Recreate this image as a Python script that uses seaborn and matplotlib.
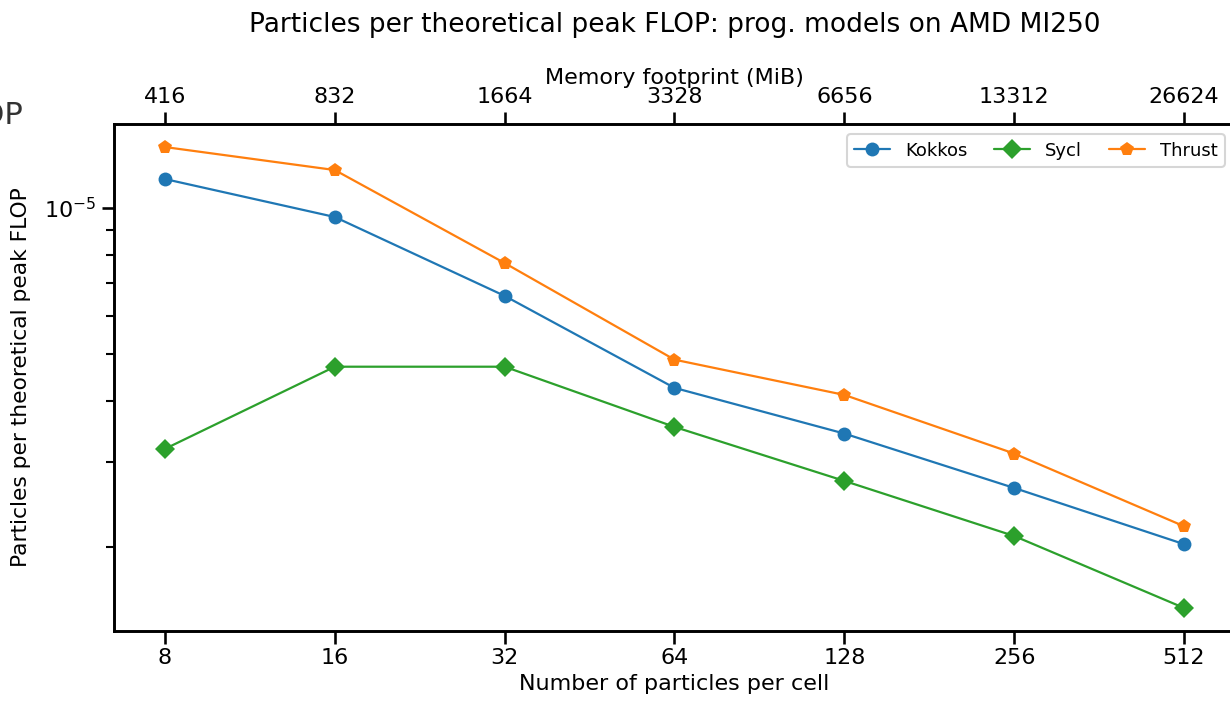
import seaborn as sns
import matplotlib.pyplot as plt
import matplotlib.ticker as mticker
import pandas as pd

# values
particles = [8, 16, 32, 64, 128, 256, 512]
memory_mib = [416, 832, 1664, 3328, 6656, 13312, 26624]
kokkos = [1.147e-5, 0.958e-5, 0.659e-5, 0.426e-5, 0.343e-5, 0.265e-5, 0.203e-5]
sycl = [0.319e-5, 0.471e-5, 0.471e-5, 0.354e-5, 0.274e-5, 0.211e-5, 0.150e-5]
thrust = [1.335e-5, 1.197e-5, 0.770e-5, 0.487e-5, 0.412e-5, 0.312e-5, 0.221e-5]
models = ["Kokkos", "Sycl", "Thrust"]

df = pd.DataFrame({
    "ppc": particles * 3,
    "value": kokkos + sycl + thrust,
    "model": sum([[m] * len(particles) for m in models], []),
})

sns.set_theme(context="talk", style="ticks")
plt.rcParams.update({
    "text.color": "black", "axes.labelcolor": "black", "axes.edgecolor": "black",
    "xtick.color": "black", "ytick.color": "black",
})

fig = plt.figure(figsize=(12.3, 7.01), dpi=100)
ax = fig.add_axes([114 / 1230, 70 / 701, 1121 / 1230, 507 / 701])

palette = {"Kokkos": "tab:blue", "Sycl": "tab:green", "Thrust": "tab:orange"}
markers = {"Kokkos": "o", "Sycl": "D", "Thrust": "p"}
sns.lineplot(data=df, x="ppc", y="value", hue="model", style="model",
             hue_order=models, palette=palette, markers=markers, dashes=False,
             markeredgewidth=0, markersize=10, linewidth=1.6, ax=ax)

ax.set_xscale("log", base=2)
ax.set_yscale("log")
ax.xaxis.set_major_locator(mticker.FixedLocator(particles))
ax.xaxis.set_major_formatter(mticker.FixedFormatter([str(p) for p in particles]))
ax.xaxis.set_minor_locator(mticker.NullLocator())
ax.yaxis.set_minor_formatter(mticker.NullFormatter())
ax.set_xlabel("Number of particles per cell", fontsize=16)
ax.set_ylabel("Particles per theoretical peak FLOP", fontsize=15.7, labelpad=10)
ax.tick_params(labelsize=16)

# top axis: memory footprint
ax2 = ax.twiny()
ax2.set_xscale("log", base=2)
ax2.set_xlim(ax.get_xlim())
ax2.xaxis.set_major_locator(mticker.FixedLocator(particles))
ax2.xaxis.set_major_formatter(mticker.FixedFormatter([str(m) for m in memory_mib]))
ax2.xaxis.set_minor_locator(mticker.NullLocator())
ax2.set_xlabel("Memory footprint (MiB)", fontsize=16, labelpad=2)
ax2.tick_params(labelsize=16)
ax2.set_title("Particles per theoretical peak FLOP: prog. models on AMD MI250",
              fontsize=19, pad=26)

leg = ax.legend(loc="upper right", ncol=3, fontsize=13, title=None,
                columnspacing=1.5, bbox_to_anchor=(0.9955, 0.99),
                borderaxespad=0.3)

# leftover of a neighbouring panel, cropped at the edge
fig.text(23 / 1230, 1 - 124 / 701, "FLOP", ha="right", va="baseline",
         fontsize=22, color="#333333")

fig.savefig("out.png", dpi=100)
